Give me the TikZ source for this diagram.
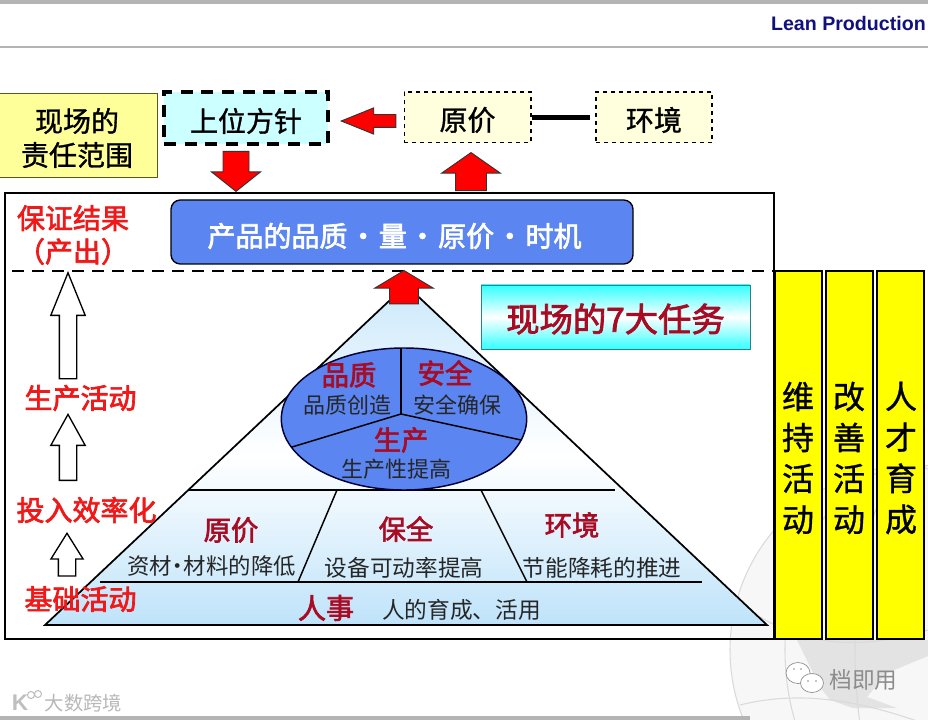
\documentclass[tikz,border=0pt]{standalone}
\usepackage{fontspec}
\setmainfont{Noto Sans CJK SC}
\newfontfamily\latinfont{Liberation Sans}
\newfontfamily\medcjk[FakeBold=1.1]{Noto Sans CJK SC}
\newfontfamily\boldcjk[FakeBold=2.4]{Noto Sans CJK SC}
\definecolor{barg}{HTML}{B4B4B4}
\definecolor{navy}{HTML}{10107F}
\definecolor{paley}{HTML}{FFFF99}
\definecolor{palec}{HTML}{CCFFFF}
\definecolor{creamy}{HTML}{FFFFDD}
\definecolor{blueb}{HTML}{5B85F0}
\definecolor{redt}{HTML}{F01818}
\definecolor{redd}{HTML}{A80C24}
\definecolor{redf}{HTML}{FF0000}
\definecolor{skyb}{HTML}{BFE3FA}
\definecolor{teal}{HTML}{2E7F86}
\definecolor{cyanb}{HTML}{33FFFF}
\definecolor{yelb}{HTML}{FFFF00}
\definecolor{olive}{HTML}{5A5A20}
\definecolor{globel}{HTML}{DADADA}
\definecolor{landg}{HTML}{E3E3E3}
\usepackage{tikz}
\usetikzlibrary{shapes.geometric,shapes.arrows,arrows.meta,positioning}

\begin{document}
\begin{tikzpicture}[x=0.75pt, y=-0.75pt,
  toptxt/.style={font=\medcjk\fontsize{21}{25.5}\selectfont, text=black, align=center, inner sep=0pt},
  redtxt/.style={font=\boldcjk\fontsize{21}{25}\selectfont, text=redt, align=center, inner sep=0pt},
  redhead/.style={font=\boldcjk\fontsize{20.5}{25}\selectfont, text=redd, inner sep=0pt},
  subtxt/.style={font=\fontsize{16.5}{20}\selectfont, text=black!85, inner sep=0pt},
  lowtxt/.style={font=\fontsize{17}{20}\selectfont, text=black!85, inner sep=0pt},
  coltxt/.style={font=\medcjk\fontsize{24}{30.75}\selectfont, text=black, align=center, inner sep=0pt},
  dashbox/.style={draw, fill=creamy, dashed, line width=1pt, inner sep=0pt},
  colbox/.style={draw, fill=yelb, line width=1.9pt, minimum width=35.5pt, minimum height=276pt, inner sep=0pt},
  redarr/.style={single arrow, fill=redf, draw=black!80, line width=0.7pt, inner xsep=0pt, anchor=tip},
  whitearr/.style={single arrow, fill=white, draw=black, line width=1pt, inner xsep=0pt, inner ysep=6pt, anchor=tip},
]
\useasboundingbox (0,0) rectangle (928,720);
\fill[white] (0,0) rectangle (928,720);

% globe
\begin{scope}
\clip (0,0) rectangle (928,720);
\filldraw[fill=white!97!black, draw=globel, line width=0.8pt] (915,650) circle[radius=185];
\fill[landg] (797,640) -- (928,640) -- (928,656) -- (887,673) -- (867,697) -- (897,708) -- (853,708) -- (830,700) -- (820,687) -- cycle;
\draw[globel, line width=0.8pt] (915,650) ellipse[x radius=130, y radius=185];
\draw[globel, line width=0.8pt] (915,650) ellipse[x radius=60, y radius=185];
\draw[globel, line width=0.8pt] (735,600) .. controls (800,650) and (860,650) .. (928,630);
\draw[globel, line width=0.8pt] (740,705) .. controls (800,690) and (860,700) .. (928,725);
\end{scope}
\fill[barg] (0,0) rectangle (928,4);
\fill[barg] (0,46) rectangle (928,48.5);
\fill[barg] (0,716) rectangle (750,720);
\node[font=\latinfont\fontsize{14.7}{16}\selectfont\bfseries, text=navy, anchor=east, inner sep=0pt] (title) at (926,23) {Lean Production};

% top row
\node[draw=olive, fill=paley, line width=0.9pt, minimum width=119pt, minimum height=63.5pt, inner sep=0pt] (scope) at (78,135.5) {};
\node[toptxt] (scopetxt) at (77,138) {现场的\\责任范围};
\node[draw, fill=palec, dashed, dash pattern=on 9pt off 6.5pt, line width=3.2pt, minimum width=123pt, minimum height=39pt, inner sep=0pt] (policy) at (246,118) {};
\node[toptxt] (policytxt) at (246,121) {上位方针};
\node[dashbox, minimum width=95pt, minimum height=38pt] (cost) at (467.5,117.5) {};
\node[toptxt] (costtxt) at (467.5,120) {原价};
\node[dashbox, minimum width=87pt, minimum height=38pt] (env) at (654,117.5) {};
\node[toptxt] (envtxt) at (654,120) {环境};
\draw[line width=3.6pt, shorten >=4pt] (cost) -- (env);
\node[redarr, inner ysep=4.5pt, minimum height=41pt, minimum width=19pt, single arrow head extend=5pt, single arrow tip angle=44, rotate=180] (arrleft) at (340,121) {};
\node[redarr, inner ysep=9.4pt, minimum height=30pt, minimum width=36pt, single arrow head extend=8.6pt, single arrow tip angle=103, rotate=-90] (arrdown) at (236,192) {};
\node[redarr, inner ysep=11.25pt, minimum height=28.5pt, minimum width=43.5pt, single arrow head extend=10.5pt, single arrow tip angle=110, rotate=90] (arrup) at (471,152) {};

% main frame
\node[draw, line width=1.9pt, minimum width=576.75pt, minimum height=334.5pt, inner sep=0pt] (frame) at (389.5,416) {};
\node[draw=black, fill=blueb, line width=1pt, rounded corners=7pt, minimum width=346.5pt, minimum height=48pt, inner sep=0pt] (output) at (402,232) {};
\node[text=white, inner sep=0pt, font=\boldcjk\fontsize{21}{24}\selectfont] (outputtxt) at (394.5,236) {产品的品质\makebox[23.5pt]{·}量\makebox[23.5pt]{·}原价\makebox[23.5pt]{·}时机};
\draw[dash pattern=on 9pt off 6pt, line width=1.4pt] (12,271) -- (frame.east |- 12,271);

% pyramid
\coordinate (apex) at (406,285);
\coordinate (pyl) at (45,625);
\coordinate (pyr) at (767,625);
\draw[top color=skyb!80, bottom color=skyb, middle color=white, line width=1.3pt] (apex) -- (pyr) -- (pyl) -- cycle;
\draw[line width=1.1pt] (188,490) -- (615,490);
\draw[line width=1.1pt] (100,582) -- (702,582);
\draw[line width=1.1pt] (337,490) -- (298,582);
\draw[line width=1.1pt] (481,490) -- (527,582);

% ellipse
\node[draw=black!80!blue, fill=blueb, line width=1.1pt, ellipse, minimum width=184pt, minimum height=106.5pt, inner sep=0pt] (core) at (404,419) {};
\coordinate (hub) at (401,414);
\draw[line width=1.1pt] (hub) -- (401,348);
\draw[line width=1.1pt] (hub) -- (292,447);
\draw[line width=1.1pt] (hub) -- (521,440);
\node[redarr, inner ysep=10.5pt, minimum height=25pt, minimum width=43pt, single arrow head extend=11pt, single arrow tip angle=118, rotate=90] (arrtop) at (404,270) {};

% task banner
\node[draw=teal, line width=0.7pt, top color=cyanb, bottom color=cyanb, middle color=white, minimum width=201.75pt, minimum height=48pt, inner sep=0pt] (tasks) at (615.5,317) {};
\node[text=redd, inner sep=0pt, font=\boldcjk\fontsize{25}{28}\selectfont] (taskstxt) at (615.5,319) {现场的7大任务};

% pyramid labels
\node[redhead] (quality) at (349,375) {品质};
\node[redhead] (safety) at (445,373) {安全};
\node[redhead] (prod) at (401,440) {生产};
\node[subtxt] (qualsub) at (347,405) {品质创造};
\node[subtxt] (safesub) at (457,405) {安全确保};
\node[subtxt] (prodsub) at (396,469) {生产性提高};
\node[redhead] (costl) at (231,530) {原价};
\node[redhead] (maint) at (406,529) {保全};
\node[redhead] (envl) at (572,525) {环境};
\node[lowtxt, font=\fontsize{16.8}{20}\selectfont] (costsub) at (211.5,566) {资材\makebox[9pt]{·}材料的降低};
\node[lowtxt] (maintsub) at (404,568) {设备可动率提高};
\node[lowtxt] (envsub) at (602,568) {节能降耗的推进};
\node[redhead, font=\boldcjk\fontsize{21}{25}\selectfont] (hr) at (326,608) {人事};
\node[lowtxt] (hrsub) at (461.5,610) {人的育成、活用};

% left side
\node[whitearr, minimum height=79.5pt, minimum width=24.75pt, single arrow head extend=6.4pt, single arrow tip angle=44, rotate=90] (up1) at (68,271) {};
\node[whitearr, minimum height=49.5pt, minimum width=24.75pt, single arrow head extend=6.4pt, single arrow tip angle=58, rotate=90] (up2) at (68,413) {};
\node[whitearr, minimum height=32pt, minimum width=23.25pt, single arrow head extend=5.6pt, single arrow tip angle=64, rotate=90] (up3) at (67,532) {};
\node[redtxt] (result) at (73,235) {保证结果\\（产出）};
\node[redtxt] (active) at (80.5,398) {生产活动};
\node[redtxt] (input) at (86.5,510) {投入效率化};
\node[redtxt] (base) at (80.5,599) {基础活动};

% right columns
\node[colbox] (col1) at (798.5,455) {};
\node[colbox] (col2) at (849.5,455) {};
\node[colbox] (col3) at (900.5,455) {};
\node[coltxt] (txt1) at (798,458) {维\\持\\活\\动};
\node[coltxt] (txt2) at (849,458) {改\\善\\活\\动};
\node[coltxt] (txt3) at (901,458) {人\\才\\育\\成};

% marks
\filldraw[fill=white, draw=black!45, line width=0.5pt] (798,673) ellipse[x radius=12, y radius=10.5];
\filldraw[fill=white, draw=black!45, line width=0.5pt] (812,683) ellipse[x radius=11.5, y radius=9.5];
\fill[black!45] (794,669) circle[radius=0.9] (801,669) circle[radius=0.9] (808,681) circle[radius=0.9] (816,681) circle[radius=0.9];
\node[font=\fontsize{17}{18}\selectfont, text=black!45, inner sep=0pt] (wechat) at (863.5,680) {档即用};
\node[font=\fontsize{14.5}{14}\selectfont, text=black!28, inner sep=0pt] (logotxt) at (83.5,703) {大数跨境};
\node[font=\latinfont\fontsize{17}{20}\selectfont\bfseries, text=black!25, inner sep=0pt] (logok) at (20,703) {K};
\draw[black!25, line width=0.8pt] (31,695) circle[radius=3.5];
\draw[black!25, line width=0.8pt] (38,694) circle[radius=3.5];
\end{tikzpicture}
\end{document}
